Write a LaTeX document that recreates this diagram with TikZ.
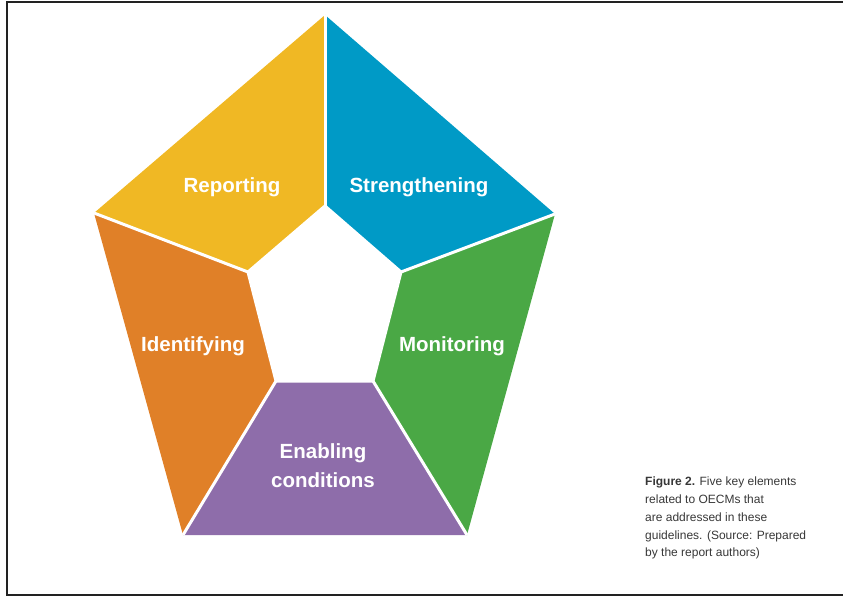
\documentclass[tikz,border=0pt]{standalone}
\usepackage{fontspec}
\usepackage{xcolor}
\usepackage{tikz}
\setmainfont{Liberation Sans}
\definecolor{repyellow}{RGB}{240,184,36}
\definecolor{strblue}{RGB}{0,154,198}
\definecolor{mongreen}{RGB}{74,168,69}
\definecolor{enapurple}{RGB}{142,109,170}
\definecolor{idorange}{RGB}{224,128,40}
\definecolor{framegray}{RGB}{34,34,34}
\definecolor{captiongray}{RGB}{55,55,55}
\tikzset{
  seglabel/.style={text=white, font=\fontsize{20.5}{29}\selectfont\bfseries, align=center, inner sep=0pt},
  gapline/.style={white, line width=3pt}
}

\begin{document}
\begin{tikzpicture}[x=1pt,y=-1pt]
			\useasboundingbox (0,0) rectangle (843,599);
			\draw[framegray, line width=1.5pt] (843,2) -- (7,2) -- (7,595) -- (843,595);
			
			% outer and inner corners
			\coordinate (o1) at (325,15);
			\coordinate (o2) at (555,214);
			\coordinate (o3) at (467,535);
			\coordinate (o4) at (183,535);
			\coordinate (o5) at (94,213);
			\coordinate (i1) at (325,206);
			\coordinate (i2) at (401,272);
			\coordinate (i3) at (373,381);
			\coordinate (i4) at (276,381);
			\coordinate (i5) at (248,272);
			
			\fill[repyellow] (o1) -- (i1) -- (i5) -- (o5) -- cycle;
			\fill[strblue] (o1) -- (o2) -- (i2) -- (i1) -- cycle;
			\fill[mongreen] (o2) -- (o3) -- (i3) -- (i2) -- cycle;
			\fill[enapurple] (o3) -- (o4) -- (i4) -- (i3) -- cycle;
			\fill[idorange] (o4) -- (o5) -- (i5) -- (i4) -- cycle;
			
			\draw[gapline] (o1) -- (i1);
			\draw[gapline] (o2) -- (i2);
			\draw[gapline] (o3) -- (i3);
			\draw[gapline] (o4) -- (i4);
			\draw[gapline] (o5) -- (i5);
			\draw[gapline] (i1) -- (i2) -- (i3) -- (i4) -- (i5) -- cycle;
			
			\node[seglabel] (rep) at (232,187) {Reporting};
			\node[seglabel] (str) at (419,187) {Strengthening};
			\node[seglabel] (mon) at (452,346) {Monitoring};
			\node[seglabel] (ena) at (323,466) {Enabling\\conditions};
			\node[seglabel] (ide) at (193,346) {Identifying};
			
			\node[anchor=north west, align=left, inner sep=0pt, text=captiongray, font=\fontsize{12}{17.75}\selectfont] (cap) at (645,477)
			{\textbf{Figure 2.} Five key elements\\related to OECMs that\\are addressed in these\\guidelines. (Source: Prepared\\by the report authors)};
			
			\end{tikzpicture}
\end{document}
